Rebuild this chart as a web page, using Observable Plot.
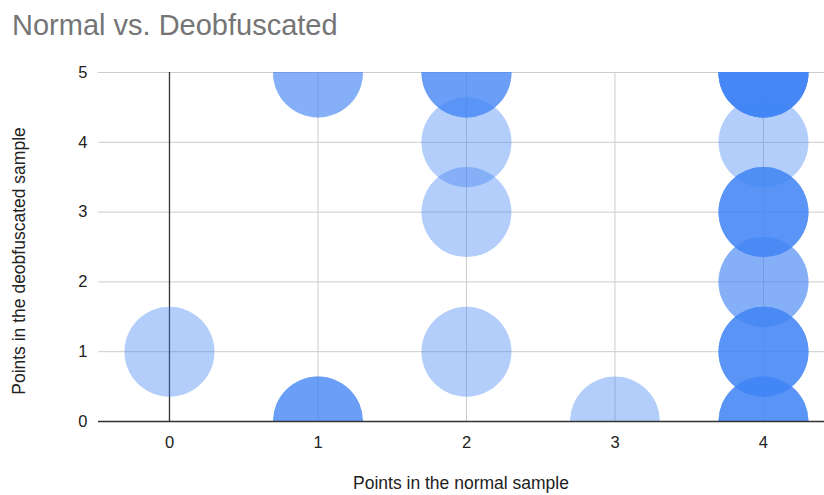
<!DOCTYPE html>
<html>
<head>
<meta charset="utf-8">
<script src="https://cdn.jsdelivr.net/npm/d3@7"></script>
<script src="https://cdn.jsdelivr.net/npm/@observablehq/plot@0.6"></script>
<style>
  html, body { margin: 0; padding: 0; background: #fff; }
  #chart { width: 824px; height: 495px; overflow: hidden; font-family: Arial, "Liberation Sans", sans-serif; }
  #title {
    box-sizing: border-box; height: 60px; padding: 11px 0 0 12px;
    font-size: 29px; line-height: 29px; color: #757575; white-space: nowrap;
  }
  svg { display: block; }
</style>
</head>
<body>
<div id="chart">
  <div id="title">Normal vs. Deobfuscated</div>
</div>
<script>
// One entry per sample: score in the normal sample and in the deobfuscated sample.
const normalPoints = [0, 1, 1, 1, 1, 1, 2, 2, 2, 2, 2, 2, 3,
  4, 4, 4, 4, 4, 4, 4, 4, 4, 4, 4, 4, 4, 4, 4, 4, 4, 4, 4, 4, 4, 4];
const deobfuscatedPoints = [1, 0, 0, 0, 5, 5, 1, 3, 4, 5, 5, 5, 0,
  0, 0, 0, 0, 1, 1, 1, 1, 2, 2, 3, 3, 3, 3, 4, 5, 5, 5, 5, 5, 5, 5, 5];
const xTicks = [0, 1, 2, 3, 4];
const yTicks = [0, 1, 2, 3, 4, 5];
const xTitle = "Points in the normal sample";
const yTitle = "Points in the deobfuscated sample";

const samples = normalPoints.map((n, i) => ({normal: n, deobfuscated: deobfuscatedPoints[i]}));

const W = 824, H = 435;
const plot = Plot.plot({
  width: W,
  height: H,
  marginTop: 12,
  marginBottom: 74,
  marginLeft: 98,
  marginRight: 0,
  style: {fontFamily: "Arial, 'Liberation Sans', sans-serif", fontSize: "16.5px", color: "#222", background: "#fff"},
  x: {domain: [-0.478, 4.411], ticks: xTicks, tickSize: 0, tickPadding: 15, label: null, tickFormat: d => String(d)},
  y: {domain: [0, 5], ticks: yTicks, tickSize: 0, tickPadding: 11, label: null, tickFormat: d => String(d)},
  marks: [
    Plot.ruleY(yTicks.filter(d => d !== 0), {stroke: "#cccccc", strokeWidth: 1}),
    Plot.ruleX(xTicks.filter(d => d !== 0), {stroke: "#cccccc", strokeWidth: 1}),
    Plot.ruleX([0], {stroke: "#333333", strokeWidth: 1.3}),
    Plot.dot(samples, {
      x: "normal", y: "deobfuscated", r: 45,
      fill: "#4285f4", fillOpacity: 0.4, stroke: "none", clip: true
    }),
    Plot.ruleY([0], {stroke: "#333333", strokeWidth: 1.3})
  ]
});

const svg = d3.select(plot);
svg.append("text")
  .attr("x", 461).attr("y", 429)
  .attr("text-anchor", "middle")
  .attr("fill", "#222")
  .style("font-size", "17.5px")
  .text(xTitle);
svg.append("text")
  .attr("transform", "translate(25,201) rotate(-90)")
  .attr("text-anchor", "middle")
  .attr("fill", "#222")
  .style("font-size", "17.5px")
  .text(yTitle);

document.getElementById("chart").appendChild(plot);
</script>
</body>
</html>
